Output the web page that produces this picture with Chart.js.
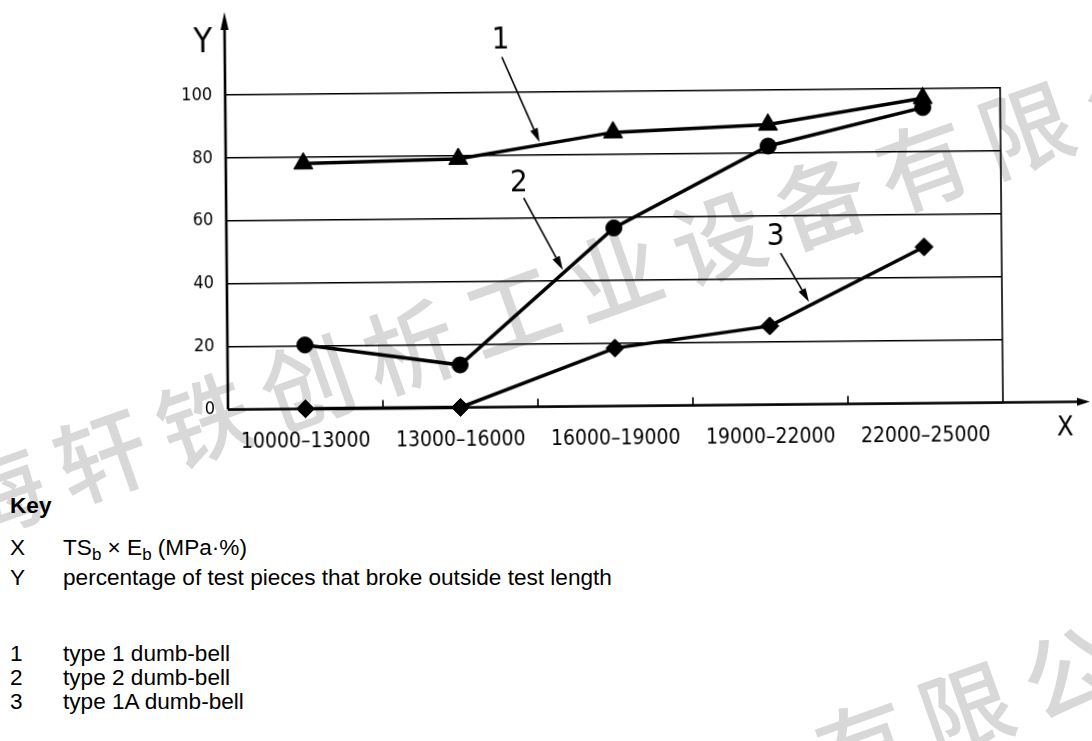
<!DOCTYPE html>
<html><head><meta charset="utf-8">
<script src="https://cdn.jsdelivr.net/npm/chart.js@4.4.1/dist/chart.umd.min.js"></script>
<style>
html,body{margin:0;padding:0;background:#fff;width:1092px;height:741px;overflow:hidden;position:relative;font-family:"Liberation Sans",Arial,sans-serif;}
.wm{position:absolute;font-family:"Noto Sans CJK SC";font-size:92px;line-height:92px;letter-spacing:17px;color:#d8d8d8;white-space:nowrap;transform-origin:0 50%;transform:rotate(-19.5deg);z-index:0;font-weight:500;}
#wrap{position:absolute;left:0;top:0;width:1092px;height:480px;z-index:1;transform-origin:228px 409.5px;transform:rotate(-0.52deg);}
.key{position:absolute;left:0;font-size:22.6px;line-height:22px;color:#000;z-index:2;white-space:nowrap;}
.key .k{position:absolute;left:10px;}
.key .t{position:absolute;left:63px;}
sub{font-size:75%;vertical-align:-0.3em;line-height:0;}
</style>
</head><body>
<div class="wm" style="left:-149px;top:494px;">上海轩铁创析工业设备有限公司</div>
<div class="wm" style="left:-209px;top:1074px;">上海轩铁创析工业设备有限公司</div>
<div id="wrap"><canvas id="c" width="1092" height="480"></canvas></div>
<div class="key" style="top:495px;"><span class="k" style="font-weight:bold;">Key</span></div>
<div class="key" style="top:537px;"><span class="k">X</span><span class="t">TS<sub>b</sub> × E<sub>b</sub> (MPa·%)</span></div>
<div class="key" style="top:567px;"><span class="k">Y</span><span class="t">percentage of test pieces that broke outside test length</span></div>
<div class="key" style="top:643px;"><span class="k">1</span><span class="t">type 1 dumb-bell</span></div>
<div class="key" style="top:667px;"><span class="k">2</span><span class="t">type 2 dumb-bell</span></div>
<div class="key" style="top:691px;"><span class="k">3</span><span class="t">type 1A dumb-bell</span></div>
<script>
// ---- data ----
const categories = ['10000–13000', '13000–16000', '16000–19000', '19000–22000', '22000–25000'];
const type1 = [78, 79, 87, 89, 97];
const type2 = [20.3, 13.5, 56.6, 82.2, 94];
const type1A = [0, 0, 18.4, 25, 49.7];
const yTicks = [0, 20, 40, 60, 80, 100];
const seriesNames = ['type 1 dumb-bell', 'type 2 dumb-bell', 'type 1A dumb-bell'];
// callouts in data coordinates: [category position, value]
const calloutText = ['1', '2', '3'];
const calloutLabelAt = [[1.28, 116.4], [1.39, 71.2], [3.042, 53.3]];
const calloutFrom = [[1.287, 111.3], [1.42, 66.4], [3.074, 48.1]];
const calloutTip = [[1.526, 84.1], [1.668, 43.4], [3.255, 32.5]];

const NARROW = '"Liberation Sans Narrow", "DejaVu Sans Condensed", "Liberation Sans", sans-serif';
Chart.defaults.font.family = NARROW;
Chart.defaults.color = '#000';

function arrowLine(ctx, x1, y1, x2, y2, len, hw, lw) {
  const ang = Math.atan2(y2 - y1, x2 - x1);
  const bx = x2 - len * Math.cos(ang), by = y2 - len * Math.sin(ang);
  ctx.lineWidth = lw;
  ctx.beginPath(); ctx.moveTo(x1, y1); ctx.lineTo(bx, by); ctx.stroke();
  ctx.beginPath(); ctx.moveTo(x2, y2);
  ctx.lineTo(bx + hw * Math.sin(ang), by - hw * Math.cos(ang));
  ctx.lineTo(bx - hw * Math.sin(ang), by + hw * Math.cos(ang));
  ctx.closePath(); ctx.fill();
}

const decor = {
  id: 'decor',
  beforeDatasetsDraw(chart) {
    const {ctx, chartArea: a, scales: {x, y}} = chart;
    ctx.save();
    ctx.strokeStyle = '#000'; ctx.fillStyle = '#000';
    // right frame line
    ctx.lineWidth = 1.6;
    ctx.beginPath(); ctx.moveTo(a.right, a.top - 1); ctx.lineTo(a.right, a.bottom); ctx.stroke();
    // boundary ticks between categories
    for (let i = 0; i < categories.length - 1; i++) {
      const px = (x.getPixelForValue(i) + x.getPixelForValue(i + 1)) / 2;
      ctx.beginPath(); ctx.moveTo(px, a.bottom); ctx.lineTo(px, a.bottom - 8); ctx.stroke();
    }
    // axes with arrows
    arrowLine(ctx, a.left, a.bottom, chart.width - 2, a.bottom, 13, 4, 2.6);
    arrowLine(ctx, a.left, a.bottom, a.left, 12, 18, 4, 2.6);
    // axis letters
    ctx.textAlign = 'center'; ctx.textBaseline = 'middle';
    ctx.font = '34px ' + NARROW;
    ctx.fillText('Y', a.left - 22, y.getPixelForValue(116.5));
    ctx.font = '27px ' + NARROW;
    ctx.fillText('X', a.right + 62, a.bottom + 26);
    // callouts
    ctx.font = '31px ' + NARROW;
    for (let i = 0; i < calloutText.length; i++) {
      ctx.fillText(calloutText[i], x.getPixelForValue(calloutLabelAt[i][0]), y.getPixelForValue(calloutLabelAt[i][1]));
      arrowLine(ctx,
        x.getPixelForValue(calloutFrom[i][0]), y.getPixelForValue(calloutFrom[i][1]),
        x.getPixelForValue(calloutTip[i][0]), y.getPixelForValue(calloutTip[i][1]), 14, 4, 1.6);
    }
    ctx.restore();
  }
};

const common = {borderColor: '#000', backgroundColor: '#000', borderWidth: 3.5, pointBorderWidth: 1,
  pointBorderColor: '#000', pointBackgroundColor: '#000', tension: 0, clip: false, fill: false};

new Chart(document.getElementById('c'), {
  type: 'line',
  data: {
    labels: categories,
    datasets: [
      Object.assign({label: seriesNames[0], data: type1, pointStyle: 'triangle', pointRadius: 11}, common),
      Object.assign({label: seriesNames[1], data: type2, pointStyle: 'circle', pointRadius: 8}, common),
      Object.assign({label: seriesNames[2], data: type1A, pointStyle: 'rectRot', pointRadius: 9}, common)
    ]
  },
  options: {
    responsive: false,
    animation: false,
    layout: {padding: {top: 95, right: 89, left: 0, bottom: 0}},
    plugins: {legend: {display: false}, tooltip: {enabled: false}},
    scales: {
      x: {
        type: 'category', offset: true,
        grid: {display: false, offset: true},
        border: {display: false},
        ticks: {font: {size: 21}, padding: 12, maxRotation: 0, autoSkip: false},
        afterFit(s) { s.height = 70.5; }
      },
      y: {
        min: 0, max: 100,
        afterBuildTicks(s) { s.ticks = yTicks.map(v => ({value: v})); },
        grid: {color: '#000', lineWidth: 1.6, drawTicks: false},
        border: {display: false},
        ticks: {font: {size: 18}, padding: 13},
        afterFit(s) { s.width = 228; }
      }
    }
  },
  plugins: [decor]
});
</script>
</body></html>
